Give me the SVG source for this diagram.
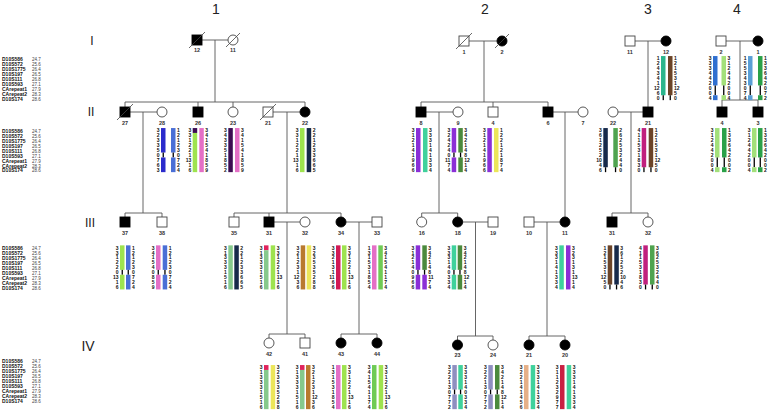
<svg xmlns="http://www.w3.org/2000/svg" width="769" height="412" viewBox="0 0 769 412">
<style>
.bg{fill:#fff}
.hd{font:14px "Liberation Sans",Arial,sans-serif;fill:#222;text-anchor:middle}
.gn{font:12px "Liberation Sans",Arial,sans-serif;fill:#222;text-anchor:middle}
.id{font:bold 5.5px "Liberation Sans",Arial,sans-serif;fill:#333;text-anchor:middle}
.mk{font:bold 5px "Liberation Sans",Arial,sans-serif;fill:#111}
.cm{font:4.5px "Liberation Sans",Arial,sans-serif;fill:#444}
.n{font:bold 5px "Liberation Sans",Arial,sans-serif;fill:#111}
.l{text-anchor:end}
.r{text-anchor:start}
.ln{fill:none;stroke:#555;stroke-width:0.9}
.op{fill:#fff;stroke:#444;stroke-width:0.9}
.af{fill:#000;stroke:#000;stroke-width:0.9}
.sl{stroke:#444;stroke-width:0.8}
.k{fill:#000}
.db{fill:#2b2bcc}.lb{fill:#4a6fd6}.lg{fill:#9ee34f}.pk{fill:#e46fc6}.dp{fill:#3d0c52}.nv{fill:#16294a}
.pu{fill:#8b2fd6}.tl{fill:#3fd19c}.dg{fill:#4b8a3d}.ye{fill:#ece65a}.mg{fill:#c0207e}.br{fill:#6b4428}
.mgr{fill:#4fa34f}.pg{fill:#86c98c}.rd{fill:#e0235c}.ob{fill:#b97a2e}.cr{fill:#d21a55}.gr{fill:#6fcb55}
.lv{fill:#8f8fc0}.pe{fill:#e6b088}.rc{fill:#c92042}.b4{fill:#2f6fd0}.lg4{fill:#a3e07a}.lb4{fill:#5b9fd6}
.g4{fill:#2aa148}.tg{fill:#2bb58c}
</style>
<rect class="bg" x="0" y="0" width="769" height="412"/>

<g id="headers">
<text class="hd" x="216" y="14">1</text>
<text class="hd" x="485" y="14">2</text>
<text class="hd" x="648" y="14">3</text>
<text class="hd" x="737" y="14">4</text>
<text class="gn" x="92" y="45">I</text>
<text class="gn" x="91" y="116">II</text>
<text class="gn" x="90" y="227">III</text>
<text class="gn" x="88" y="351" style="font-size:14px">IV</text>
</g>

<g id="markers">
<g transform="translate(2,60.5)">
<text class="mk" y="0">D10S586</text><text class="mk" y="5">D10S572</text><text class="mk" y="10">D10S1775</text><text class="mk" y="15">D10S197</text><text class="mk" y="20">D10S111</text><text class="mk" y="25">D10S593</text><text class="mk" y="30">CArepeat1</text><text class="mk" y="35">CArepeat2</text><text class="mk" y="40">D10S174</text>
<text class="cm" x="30" y="0">24.7</text><text class="cm" x="30" y="5">25.6</text><text class="cm" x="30" y="10">26.4</text><text class="cm" x="30" y="15">26.5</text><text class="cm" x="30" y="20">26.8</text><text class="cm" x="30" y="25">27.1</text><text class="cm" x="30" y="30">27.9</text><text class="cm" x="30" y="35">28.3</text><text class="cm" x="30" y="40">28.6</text>
</g>
<g transform="translate(2,133.3)">
<text class="mk" y="0">D10S586</text><text class="mk" y="4.9">D10S572</text><text class="mk" y="9.8">D10S1775</text><text class="mk" y="14.7">D10S197</text><text class="mk" y="19.6">D10S111</text><text class="mk" y="24.5">D10S593</text><text class="mk" y="29.4">CArepeat1</text><text class="mk" y="34.3">CArepeat2</text><text class="mk" y="39.2">D10S174</text>
<text class="cm" x="30" y="0">24.7</text><text class="cm" x="30" y="4.9">25.6</text><text class="cm" x="30" y="9.8">26.4</text><text class="cm" x="30" y="14.7">26.5</text><text class="cm" x="30" y="19.6">26.8</text><text class="cm" x="30" y="24.5">27.1</text><text class="cm" x="30" y="29.4">27.9</text><text class="cm" x="30" y="34.3">28.3</text><text class="cm" x="30" y="39.2">28.6</text>
</g>
<g transform="translate(2,250)">
<text class="mk" y="0">D10S586</text><text class="mk" y="5">D10S572</text><text class="mk" y="10">D10S1775</text><text class="mk" y="15">D10S197</text><text class="mk" y="20">D10S111</text><text class="mk" y="25">D10S593</text><text class="mk" y="30">CArepeat1</text><text class="mk" y="35">CArepeat2</text><text class="mk" y="40">D10S174</text>
<text class="cm" x="30" y="0">24.7</text><text class="cm" x="30" y="5">25.6</text><text class="cm" x="30" y="10">26.4</text><text class="cm" x="30" y="15">26.5</text><text class="cm" x="30" y="20">26.8</text><text class="cm" x="30" y="25">27.1</text><text class="cm" x="30" y="30">27.9</text><text class="cm" x="30" y="35">28.3</text><text class="cm" x="30" y="40">28.6</text>
</g>
<g transform="translate(2,363)">
<text class="mk" y="0">D10S586</text><text class="mk" y="5">D10S572</text><text class="mk" y="10">D10S1775</text><text class="mk" y="15">D10S197</text><text class="mk" y="20">D10S111</text><text class="mk" y="25">D10S593</text><text class="mk" y="30">CArepeat1</text><text class="mk" y="35">CArepeat2</text><text class="mk" y="40">D10S174</text>
<text class="cm" x="30" y="0">24.7</text><text class="cm" x="30" y="5">25.6</text><text class="cm" x="30" y="10">26.4</text><text class="cm" x="30" y="15">26.5</text><text class="cm" x="30" y="20">26.8</text><text class="cm" x="30" y="25">27.1</text><text class="cm" x="30" y="30">27.9</text><text class="cm" x="30" y="35">28.3</text><text class="cm" x="30" y="40">28.6</text>
</g>
</g>

<g id="connectors" class="ln">
<path d="M202 40H228M215 40V102M125 102H305M125 102V107M198 102V107M233 102V107M305 102V107"/>
<path d="M469 41H497M484 41V102M421 102H548M421 102V107M493 102V107M548 102V107"/>
<path d="M635 41H661M648 41V107"/>
<path d="M726 41H753M740 41V100M722 100H758M722 100V107M758 100V107"/>
<path d="M130 112H157M143 112V213M125 213H162M125 213V217M162 213V217"/>
<path d="M273 112H300M287 112V213M234 213H341M234 213V217M269 213V217M341 213V217"/>
<path d="M426 112H453M439 112V213M421.7 213H457.7M421.7 213V217M457.7 213V217"/>
<path d="M553 112H578M565 112V217"/>
<path d="M618 112H643M631 112V213M612 213H648M612 213V217M648 213V217"/>
<path d="M274 222H300M287 222V334M269 334H305M269 334V338M305 334V338"/>
<path d="M346 222H372M359 222V334M341 334H377M341 334V338M377 334V338"/>
<path d="M462.7 222H488M475.5 222V336M457.5 336H493M457.5 336V340M493 336V340"/>
<path d="M534 222H560M547 222V336M529 336H565M529 336V340M565 336V340"/>
</g>

<!-- Generation I -->
<g id="p-1-12"><rect class="af" x="192" y="35" width="10" height="10"/><line class="sl" x1="189" y1="48" x2="205" y2="32"/><text class="id" x="197" y="52">12</text></g>
<g id="p-1-11"><circle class="op" cx="233" cy="40" r="5"/><line class="sl" x1="226" y1="47" x2="240" y2="33"/><text class="id" x="233" y="52">11</text></g>
<g id="p-2-1"><rect class="op" x="459" y="36" width="10" height="10"/><line class="sl" x1="456" y1="49" x2="472" y2="33"/><text class="id" x="464" y="54">1</text></g>
<g id="p-2-2"><circle class="af" cx="502" cy="41" r="5"/><line class="sl" x1="495" y1="48" x2="509" y2="34"/><text class="id" x="502" y="54">2</text></g>
<g id="p-3-11"><rect class="op" x="625" y="36" width="10" height="10"/><text class="id" x="630" y="54">11</text></g>
<g id="p-3-12"><circle class="af" cx="666" cy="41" r="5"/><text class="id" x="666" y="54">12</text></g>
<g id="p-4-2"><rect class="op" x="716" y="36" width="10" height="10"/><text class="id" x="721" y="54">2</text></g>
<g id="p-4-1"><circle class="af" cx="758" cy="41" r="5"/><text class="id" x="758" y="54">1</text></g>

<!-- Generation II -->
<g id="p-1-27"><rect class="af" x="120" y="107" width="10" height="10"/><line class="sl" x1="117" y1="120" x2="133" y2="104"/><text class="id" x="125" y="124.5">27</text></g>
<g id="p-1-28"><circle class="op" cx="162" cy="112" r="5"/><text class="id" x="162" y="124.5">28</text></g>
<g id="p-1-26"><rect class="af" x="193" y="107" width="10" height="10"/><text class="id" x="198" y="124.5">26</text></g>
<g id="p-1-23"><circle class="op" cx="233" cy="112" r="5"/><text class="id" x="233" y="124.5">23</text></g>
<g id="p-1-21"><rect class="op" x="263" y="107" width="10" height="10"/><line class="sl" x1="260" y1="120" x2="276" y2="104"/><text class="id" x="268" y="124.5">21</text></g>
<g id="p-1-22"><circle class="af" cx="305" cy="112" r="5"/><text class="id" x="305" y="124.5">22</text></g>
<g id="p-2-8"><rect class="af" x="416" y="107" width="10" height="10"/><text class="id" x="421" y="124.5">8</text></g>
<g id="p-2-9"><circle class="op" cx="458" cy="112" r="5"/><text class="id" x="458" y="124.5">9</text></g>
<g id="p-2-4"><rect class="op" x="488" y="107" width="10" height="10"/><text class="id" x="493" y="124.5">4</text></g>
<g id="p-2-6"><rect class="af" x="543" y="107" width="10" height="10"/><text class="id" x="548" y="124.5">6</text></g>
<g id="p-2-7"><circle class="op" cx="583" cy="112" r="5"/><text class="id" x="583" y="124.5">7</text></g>
<g id="p-3-22"><circle class="op" cx="613" cy="112" r="5"/><text class="id" x="613" y="124.5">22</text></g>
<g id="p-3-21"><rect class="af" x="643" y="107" width="10" height="10"/><text class="id" x="648" y="124.5">21</text></g>
<g id="p-4-4"><rect class="af" x="717" y="107" width="10" height="10"/><text class="id" x="722" y="124.5">4</text></g>
<g id="p-4-3"><rect class="af" x="753" y="107" width="10" height="10"/><text class="id" x="758" y="124.5">3</text></g>

<!-- Generation III -->
<g id="p-1-37"><rect class="af" x="120" y="217" width="10" height="10"/><text class="id" x="125" y="234.5">37</text></g>
<g id="p-1-38"><rect class="op" x="157" y="217" width="10" height="10"/><text class="id" x="162" y="234.5">38</text></g>
<g id="p-1-35"><rect class="op" x="229" y="217" width="10" height="10"/><text class="id" x="234" y="234.5">35</text></g>
<g id="p-1-31"><rect class="af" x="264" y="217" width="10" height="10"/><text class="id" x="269" y="234.5">31</text></g>
<g id="p-1-32"><circle class="op" cx="305" cy="222" r="5"/><text class="id" x="305" y="234.5">32</text></g>
<g id="p-1-34"><circle class="af" cx="341" cy="222" r="5"/><text class="id" x="341" y="234.5">34</text></g>
<g id="p-1-33"><rect class="op" x="372" y="217" width="10" height="10"/><text class="id" x="377" y="234.5">33</text></g>
<g id="p-2-16"><circle class="op" cx="421.7" cy="222" r="5"/><text class="id" x="421.7" y="234.5">16</text></g>
<g id="p-2-18"><circle class="af" cx="457.7" cy="222" r="5"/><text class="id" x="457.7" y="234.5">18</text></g>
<g id="p-2-19"><rect class="op" x="488" y="217" width="10" height="10"/><text class="id" x="493" y="234.5">19</text></g>
<g id="p-2-10"><rect class="op" x="524" y="217" width="10" height="10"/><text class="id" x="529" y="234.5">10</text></g>
<g id="p-2-11"><circle class="af" cx="565" cy="222" r="5"/><text class="id" x="565" y="234.5">11</text></g>
<g id="p-3-31"><rect class="af" x="607" y="217" width="10" height="10"/><text class="id" x="612" y="234.5">31</text></g>
<g id="p-3-32"><circle class="op" cx="648" cy="222" r="5"/><text class="id" x="648" y="234.5">32</text></g>

<!-- Generation IV -->
<g id="p-1-42"><circle class="op" cx="269" cy="343" r="5"/><text class="id" x="269" y="355.5">42</text></g>
<g id="p-1-41"><rect class="op" x="300" y="338" width="10" height="10"/><text class="id" x="305" y="355.5">41</text></g>
<g id="p-1-43"><circle class="af" cx="341" cy="343" r="5"/><text class="id" x="341" y="355.5">43</text></g>
<g id="p-1-44"><circle class="af" cx="377" cy="343" r="5"/><text class="id" x="377" y="355.5">44</text></g>
<g id="p-2-23"><circle class="af" cx="457.5" cy="345" r="5"/><text class="id" x="457.5" y="357">23</text></g>
<g id="p-2-24"><circle class="op" cx="493" cy="345" r="5"/><text class="id" x="493" y="357">24</text></g>
<g id="p-2-21"><circle class="af" cx="529" cy="345" r="5"/><text class="id" x="529" y="357">21</text></g>
<g id="p-2-20"><circle class="af" cx="565" cy="345" r="5"/><text class="id" x="565" y="357">20</text></g>

<!-- Haplotypes -->
<g id="h-3-12" class="n" transform="translate(661,58.5)">
<rect class="tg" x="0" y="-2.45" width="4.5" height="39.2"/><rect class="k" x="1.6" y="36.75" width="1.3" height="4.9"/>
<rect class="br" x="7" y="-2.45" width="4.5" height="39.2"/><rect class="k" x="8.6" y="36.75" width="1.3" height="4.9"/>
<g class="l" transform="translate(-1.5)"><text y="1.9">1</text><text y="6.8">2</text><text y="11.7">4</text><text y="16.6">3</text><text y="21.5">4</text><text y="26.4">1</text><text y="31.3">12</text><text y="36.2">6</text><text y="41.1">0</text></g>
<g class="r" transform="translate(13)"><text y="1.9">1</text><text y="6.8">2</text><text y="11.7">1</text><text y="16.6">5</text><text y="21.5">3</text><text y="26.4">1</text><text y="31.3">12</text><text y="36.2">5</text><text y="41.1">0</text></g>
</g>
<g id="h-4-2" class="n" transform="translate(713,58.5)">
<rect class="b4" x="0" y="-2.45" width="4.5" height="29.4"/><rect class="k" x="1.6" y="26.95" width="1.3" height="9.8"/><rect class="b4" x="0" y="36.75" width="4.5" height="4.9"/>
<rect class="lg4" x="8.5" y="-2.45" width="4.5" height="29.4"/><rect class="k" x="10.1" y="26.95" width="1.3" height="9.8"/><rect class="lg4" x="8.5" y="36.75" width="4.5" height="4.9"/>
<g class="l" transform="translate(-1.5)"><text y="1.9">3</text><text y="6.8">3</text><text y="11.7">3</text><text y="16.6">4</text><text y="21.5">4</text><text y="26.4">2</text><text y="31.3">0</text><text y="36.2">0</text><text y="41.1">4</text></g>
<g class="r" transform="translate(14.5)"><text y="1.9">3</text><text y="6.8">1</text><text y="11.7">2</text><text y="16.6">4</text><text y="21.5">4</text><text y="26.4">2</text><text y="31.3">0</text><text y="36.2">0</text><text y="41.1">4</text></g>
</g>
<g id="h-4-1" class="n" transform="translate(748,58.5)">
<rect class="lb4" x="0" y="-2.45" width="4.5" height="29.4"/><rect class="k" x="1.6" y="26.95" width="1.3" height="9.8"/><rect class="lb4" x="0" y="36.75" width="4.5" height="4.9"/>
<rect class="g4" x="10" y="-2.45" width="4.5" height="29.4"/><rect class="k" x="11.6" y="26.95" width="1.3" height="9.8"/><rect class="g4" x="10" y="36.75" width="4.5" height="4.9"/>
<g class="l" transform="translate(-1.5)"><text y="1.9">1</text><text y="6.8">5</text><text y="11.7">5</text><text y="16.6">3</text><text y="21.5">4</text><text y="26.4">3</text><text y="31.3">0</text><text y="36.2">7</text><text y="41.1">4</text></g>
<g class="r" transform="translate(16)"><text y="1.9">1</text><text y="6.8">3</text><text y="11.7">3</text><text y="16.6">6</text><text y="21.5">4</text><text y="26.4">2</text><text y="31.3">0</text><text y="36.2">7</text><text y="41.1">2</text></g>
</g>

<g id="h-1-28" class="n" transform="translate(161,130.5)">
<rect class="db" x="0" y="-2.45" width="4.5" height="24.5"/><rect class="k" x="1.6" y="22.05" width="1.3" height="4.9"/><rect class="db" x="0" y="26.95" width="4.5" height="14.7"/>
<rect class="lb" x="10" y="-2.45" width="4.5" height="24.5"/><rect class="k" x="11.6" y="22.05" width="1.3" height="4.9"/><rect class="lb" x="10" y="26.95" width="4.5" height="14.7"/>
<g class="l" transform="translate(-1.5)"><text y="1.9">3</text><text y="6.8">2</text><text y="11.7">3</text><text y="16.6">3</text><text y="21.5">5</text><text y="26.4">0</text><text y="31.3">7</text><text y="36.2">6</text><text y="41.1">3</text></g>
<g class="r" transform="translate(16)"><text y="1.9">1</text><text y="6.8">2</text><text y="11.7">1</text><text y="16.6">2</text><text y="21.5">3</text><text y="26.4">0</text><text y="31.3">7</text><text y="36.2">2</text><text y="41.1">4</text></g>
</g>
<g id="h-1-26" class="n" transform="translate(192.7,130.5)">
<rect class="dp" x="0" y="-2.45" width="4.5" height="4.9"/><rect class="lg" x="0" y="2.45" width="4.5" height="39.2"/>
<rect class="pk" x="6.6" y="-2.45" width="4.5" height="44.1"/>
<g class="l" transform="translate(-1.5)"><text y="1.9">3</text><text y="6.8">3</text><text y="11.7">1</text><text y="16.6">2</text><text y="21.5">2</text><text y="26.4">1</text><text y="31.3">13</text><text y="36.2">1</text><text y="41.1">6</text></g>
<g class="r" transform="translate(12.6)"><text y="1.9">3</text><text y="6.8">4</text><text y="11.7">1</text><text y="16.6">5</text><text y="21.5">4</text><text y="26.4">1</text><text y="31.3">8</text><text y="36.2">5</text><text y="41.1">9</text></g>
</g>
<g id="h-1-23" class="n" transform="translate(228.3,130.5)">
<rect class="dp" x="0" y="-2.45" width="4.5" height="44.1"/>
<rect class="pk" x="6.7" y="-2.45" width="4.5" height="44.1"/>
<g class="l" transform="translate(-1.5)"><text y="1.9">3</text><text y="6.8">4</text><text y="11.7">3</text><text y="16.6">3</text><text y="21.5">5</text><text y="26.4">1</text><text y="31.3">8</text><text y="36.2">5</text><text y="41.1">2</text></g>
<g class="r" transform="translate(12.7)"><text y="1.9">3</text><text y="6.8">4</text><text y="11.7">1</text><text y="16.6">5</text><text y="21.5">4</text><text y="26.4">1</text><text y="31.3">8</text><text y="36.2">5</text><text y="41.1">9</text></g>
</g>
<g id="h-1-22" class="n" transform="translate(300,130.5)">
<rect class="lg" x="0" y="-2.45" width="4.5" height="44.1"/>
<rect class="nv" x="6.7" y="-2.45" width="4.5" height="44.1"/>
<g class="l" transform="translate(-1.5)"><text y="1.9">3</text><text y="6.8">3</text><text y="11.7">1</text><text y="16.6">2</text><text y="21.5">2</text><text y="26.4">1</text><text y="31.3">13</text><text y="36.2">1</text><text y="41.1">6</text></g>
<g class="r" transform="translate(12.7)"><text y="1.9">2</text><text y="6.8">2</text><text y="11.7">1</text><text y="16.6">2</text><text y="21.5">3</text><text y="26.4">3</text><text y="31.3">6</text><text y="36.2">6</text><text y="41.1">5</text></g>
</g>
<g id="h-2-8" class="n" transform="translate(416,130.5)">
<rect class="pu" x="0" y="-2.45" width="4.5" height="44.1"/>
<rect class="tl" x="7" y="-2.45" width="4.5" height="44.1"/>
<g class="l" transform="translate(-1.5)"><text y="1.9">3</text><text y="6.8">1</text><text y="11.7">2</text><text y="16.6">1</text><text y="21.5">4</text><text y="26.4">1</text><text y="31.3">9</text><text y="36.2">6</text><text y="41.1">6</text></g>
<g class="r" transform="translate(13)"><text y="1.9">3</text><text y="6.8">3</text><text y="11.7">3</text><text y="16.6">1</text><text y="21.5">4</text><text y="26.4">1</text><text y="31.3">3</text><text y="36.2">3</text><text y="41.1">4</text></g>
</g>
<g id="h-2-9" class="n" transform="translate(451.7,130.5)">
<rect class="pu" x="0" y="-2.45" width="4.5" height="24.5"/><rect class="k" x="1.6" y="22.05" width="1.3" height="4.9"/><rect class="pu" x="0" y="26.95" width="4.5" height="14.7"/>
<rect class="dg" x="6.6" y="-2.45" width="4.5" height="24.5"/><rect class="k" x="8.2" y="22.05" width="1.3" height="4.9"/><rect class="dg" x="6.6" y="26.95" width="4.5" height="14.7"/>
<g class="l" transform="translate(-1.5)"><text y="1.9">3</text><text y="6.8">2</text><text y="11.7">4</text><text y="16.6">2</text><text y="21.5">4</text><text y="26.4">0</text><text y="31.3">11</text><text y="36.2">7</text><text y="41.1">4</text></g>
<g class="r" transform="translate(12.6)"><text y="1.9">3</text><text y="6.8">4</text><text y="11.7">2</text><text y="16.6">1</text><text y="21.5">4</text><text y="26.4">8</text><text y="31.3">12</text><text y="36.2">1</text><text y="41.1">4</text></g>
</g>
<g id="h-2-4" class="n" transform="translate(487.3,130.5)">
<rect class="pu" x="0" y="-2.45" width="4.5" height="44.1"/>
<rect class="ye" x="6.7" y="-2.45" width="4.5" height="44.1"/>
<g class="l" transform="translate(-1.5)"><text y="1.9">3</text><text y="6.8">1</text><text y="11.7">2</text><text y="16.6">1</text><text y="21.5">4</text><text y="26.4">1</text><text y="31.3">9</text><text y="36.2">6</text><text y="41.1">6</text></g>
<g class="r" transform="translate(12.7)"><text y="1.9">1</text><text y="6.8">2</text><text y="11.7">2</text><text y="16.6">1</text><text y="21.5">2</text><text y="26.4">1</text><text y="31.3">8</text><text y="36.2">7</text><text y="41.1">4</text></g>
</g>
<g id="h-3-22" class="n" transform="translate(603.3,130.5)">
<rect class="nv" x="0" y="-2.45" width="4.5" height="39.2"/><rect class="k" x="1.6" y="36.75" width="1.3" height="4.9"/>
<rect class="mgr" x="10" y="-2.45" width="4.5" height="39.2"/><rect class="k" x="11.6" y="36.75" width="1.3" height="4.9"/>
<g class="l" transform="translate(-1.5)"><text y="1.9">3</text><text y="6.8">6</text><text y="11.7">1</text><text y="16.6">2</text><text y="21.5">5</text><text y="26.4">2</text><text y="31.3">10</text><text y="36.2">4</text><text y="41.1">6</text></g>
<g class="r" transform="translate(16)"><text y="1.9">2</text><text y="6.8">6</text><text y="11.7">2</text><text y="16.6">5</text><text y="21.5">3</text><text y="26.4">2</text><text y="31.3">4</text><text y="36.2">4</text><text y="41.1">0</text></g>
</g>
<g id="h-3-21" class="n" transform="translate(641.7,130.5)">
<rect class="mg" x="0" y="-2.45" width="4.5" height="39.2"/><rect class="k" x="1.6" y="36.75" width="1.3" height="4.9"/>
<rect class="br" x="7" y="-2.45" width="4.5" height="39.2"/><rect class="k" x="8.6" y="36.75" width="1.3" height="4.9"/>
<g class="l" transform="translate(-1.5)"><text y="1.9">4</text><text y="6.8">1</text><text y="11.7">1</text><text y="16.6">5</text><text y="21.5">3</text><text y="26.4">1</text><text y="31.3">8</text><text y="36.2">3</text><text y="41.1">0</text></g>
<g class="r" transform="translate(13)"><text y="1.9">1</text><text y="6.8">2</text><text y="11.7">1</text><text y="16.6">5</text><text y="21.5">3</text><text y="26.4">1</text><text y="31.3">12</text><text y="36.2">5</text><text y="41.1">0</text></g>
</g>
<g id="h-4-4" class="n" transform="translate(715,130.5)">
<rect class="lg4" x="0" y="-2.45" width="4.5" height="29.4"/><rect class="k" x="1.6" y="26.95" width="1.3" height="9.8"/><rect class="lg4" x="0" y="36.75" width="4.5" height="4.9"/>
<rect class="g4" x="7" y="-2.45" width="4.5" height="29.4"/><rect class="k" x="8.6" y="26.95" width="1.3" height="9.8"/><rect class="g4" x="7" y="36.75" width="4.5" height="4.9"/>
<g class="l" transform="translate(-1.5)"><text y="1.9">3</text><text y="6.8">1</text><text y="11.7">2</text><text y="16.6">4</text><text y="21.5">4</text><text y="26.4">2</text><text y="31.3">0</text><text y="36.2">0</text><text y="41.1">4</text></g>
<g class="r" transform="translate(13)"><text y="1.9">1</text><text y="6.8">3</text><text y="11.7">3</text><text y="16.6">6</text><text y="21.5">4</text><text y="26.4">2</text><text y="31.3">0</text><text y="36.2">0</text><text y="41.1">2</text></g>
</g>
<g id="h-4-3" class="n" transform="translate(752,130.5)">
<rect class="lg4" x="0" y="-2.45" width="4.5" height="29.4"/><rect class="k" x="1.6" y="26.95" width="1.3" height="9.8"/><rect class="lg4" x="0" y="36.75" width="4.5" height="4.9"/>
<rect class="g4" x="6" y="-2.45" width="4.5" height="29.4"/><rect class="k" x="7.6" y="26.95" width="1.3" height="9.8"/><rect class="g4" x="6" y="36.75" width="4.5" height="4.9"/>
<g class="l" transform="translate(-1.5)"><text y="1.9">3</text><text y="6.8">1</text><text y="11.7">2</text><text y="16.6">4</text><text y="21.5">4</text><text y="26.4">2</text><text y="31.3">0</text><text y="36.2">0</text><text y="41.1">4</text></g>
<g class="r" transform="translate(12)"><text y="1.9">1</text><text y="6.8">3</text><text y="11.7">3</text><text y="16.6">6</text><text y="21.5">4</text><text y="26.4">2</text><text y="31.3">0</text><text y="36.2">0</text><text y="41.1">2</text></g>
</g>

<g id="h-1-37" class="n" transform="translate(120,247.8)">
<rect class="lg" x="0" y="-2.45" width="4.5" height="24.5"/><rect class="k" x="1.6" y="22.05" width="1.3" height="4.9"/><rect class="lg" x="0" y="26.95" width="4.5" height="14.7"/>
<rect class="lb" x="6" y="-2.45" width="4.5" height="24.5"/><rect class="k" x="7.6" y="22.05" width="1.3" height="4.9"/><rect class="lb" x="6" y="26.95" width="4.5" height="14.7"/>
<g class="l" transform="translate(-1.5)"><text y="1.9">3</text><text y="6.8">3</text><text y="11.7">1</text><text y="16.6">2</text><text y="21.5">2</text><text y="26.4">0</text><text y="31.3">13</text><text y="36.2">1</text><text y="41.1">6</text></g>
<g class="r" transform="translate(12)"><text y="1.9">1</text><text y="6.8">2</text><text y="11.7">1</text><text y="16.6">2</text><text y="21.5">3</text><text y="26.4">0</text><text y="31.3">7</text><text y="36.2">2</text><text y="41.1">4</text></g>
</g>
<g id="h-1-38" class="n" transform="translate(156,247.8)">
<rect class="pk" x="0" y="-2.45" width="4.5" height="24.5"/><rect class="k" x="1.6" y="22.05" width="1.3" height="4.9"/><rect class="pk" x="0" y="26.95" width="4.5" height="14.7"/>
<rect class="lb" x="6.7" y="-2.45" width="4.5" height="24.5"/><rect class="k" x="8.3" y="22.05" width="1.3" height="4.9"/><rect class="lb" x="6.7" y="26.95" width="4.5" height="14.7"/>
<g class="l" transform="translate(-1.5)"><text y="1.9">3</text><text y="6.8">4</text><text y="11.7">1</text><text y="16.6">5</text><text y="21.5">4</text><text y="26.4">0</text><text y="31.3">8</text><text y="36.2">5</text><text y="41.1">9</text></g>
<g class="r" transform="translate(12.7)"><text y="1.9">1</text><text y="6.8">2</text><text y="11.7">1</text><text y="16.6">2</text><text y="21.5">3</text><text y="26.4">0</text><text y="31.3">7</text><text y="36.2">2</text><text y="41.1">4</text></g>
</g>
<g id="h-1-35" class="n" transform="translate(228.3,247.8)">
<rect class="pg" x="0" y="-2.45" width="4.5" height="44.1"/>
<rect class="nv" x="6" y="-2.45" width="4.5" height="44.1"/>
<g class="l" transform="translate(-1.5)"><text y="1.9">3</text><text y="6.8">1</text><text y="11.7">3</text><text y="16.6">3</text><text y="21.5">3</text><text y="26.4">1</text><text y="31.3">5</text><text y="36.2">1</text><text y="41.1">6</text></g>
<g class="r" transform="translate(12)"><text y="1.9">2</text><text y="6.8">2</text><text y="11.7">1</text><text y="16.6">2</text><text y="21.5">3</text><text y="26.4">3</text><text y="31.3">6</text><text y="36.2">6</text><text y="41.1">5</text></g>
</g>
<g id="h-1-31" class="n" transform="translate(264,247.8)">
<rect class="rd" x="0" y="-2.45" width="4.5" height="4.9"/><rect class="pg" x="0" y="2.45" width="4.5" height="39.2"/>
<rect class="lg" x="6.7" y="-2.45" width="4.5" height="44.1"/>
<g class="l" transform="translate(-1.5)"><text y="1.9">3</text><text y="6.8">1</text><text y="11.7">3</text><text y="16.6">3</text><text y="21.5">3</text><text y="26.4">1</text><text y="31.3">5</text><text y="36.2">1</text><text y="41.1">6</text></g>
<g class="r" transform="translate(12.7)"><text y="1.9">3</text><text y="6.8">3</text><text y="11.7">1</text><text y="16.6">2</text><text y="21.5">2</text><text y="26.4">1</text><text y="31.3">13</text><text y="36.2">1</text><text y="41.1">6</text></g>
</g>
<g id="h-1-32" class="n" transform="translate(300.7,247.8)">
<rect class="ob" x="0" y="-2.45" width="4.5" height="44.1"/>
<rect class="ye" x="6" y="-2.45" width="4.5" height="44.1"/>
<g class="l" transform="translate(-1.5)"><text y="1.9">3</text><text y="6.8">2</text><text y="11.7">1</text><text y="16.6">2</text><text y="21.5">3</text><text y="26.4">1</text><text y="31.3">12</text><text y="36.2">3</text><text y="41.1">6</text></g>
<g class="r" transform="translate(12)"><text y="1.9">3</text><text y="6.8">2</text><text y="11.7">3</text><text y="16.6">5</text><text y="21.5">3</text><text y="26.4">5</text><text y="31.3">2</text><text y="36.2">8</text><text y="41.1">8</text></g>
</g>
<g id="h-1-34" class="n" transform="translate(336,247.8)">
<rect class="cr" x="0" y="-2.45" width="4.5" height="44.1"/>
<rect class="lg" x="6" y="-2.45" width="4.5" height="44.1"/>
<g class="l" transform="translate(-1.5)"><text y="1.9">3</text><text y="6.8">3</text><text y="11.7">2</text><text y="16.6">1</text><text y="21.5">3</text><text y="26.4">1</text><text y="31.3">11</text><text y="36.2">6</text><text y="41.1">6</text></g>
<g class="r" transform="translate(12)"><text y="1.9">3</text><text y="6.8">3</text><text y="11.7">1</text><text y="16.6">2</text><text y="21.5">2</text><text y="26.4">1</text><text y="31.3">13</text><text y="36.2">1</text><text y="41.1">6</text></g>
</g>
<g id="h-1-33" class="n" transform="translate(372,247.8)">
<rect class="pk" x="0" y="-2.45" width="4.5" height="44.1"/>
<rect class="gr" x="6.3" y="-2.45" width="4.5" height="44.1"/>
<g class="l" transform="translate(-1.5)"><text y="1.9">1</text><text y="6.8">3</text><text y="11.7">1</text><text y="16.6">5</text><text y="21.5">3</text><text y="26.4">1</text><text y="31.3">8</text><text y="36.2">5</text><text y="41.1">4</text></g>
<g class="r" transform="translate(12.3)"><text y="1.9">3</text><text y="6.8">4</text><text y="11.7">1</text><text y="16.6">5</text><text y="21.5">4</text><text y="26.4">1</text><text y="31.3">1</text><text y="36.2">7</text><text y="41.1">4</text></g>
</g>
<g id="h-2-16" class="n" transform="translate(415.7,247.8)">
<rect class="pu" x="0" y="-2.45" width="4.5" height="24.5"/><rect class="k" x="1.6" y="22.05" width="1.3" height="4.9"/><rect class="pu" x="0" y="26.95" width="4.5" height="14.7"/>
<rect class="dg" x="6.6" y="-2.45" width="4.5" height="24.5"/><rect class="k" x="8.2" y="22.05" width="1.3" height="4.9"/><rect class="pu" x="6.6" y="26.95" width="4.5" height="14.7"/>
<g class="l" transform="translate(-1.5)"><text y="1.9">3</text><text y="6.8">1</text><text y="11.7">2</text><text y="16.6">1</text><text y="21.5">4</text><text y="26.4">0</text><text y="31.3">9</text><text y="36.2">6</text><text y="41.1">6</text></g>
<g class="r" transform="translate(12.6)"><text y="1.9">3</text><text y="6.8">4</text><text y="11.7">2</text><text y="16.6">1</text><text y="21.5">4</text><text y="26.4">8</text><text y="31.3">11</text><text y="36.2">7</text><text y="41.1">4</text></g>
</g>
<g id="h-2-18" class="n" transform="translate(451.7,247.8)">
<rect class="tl" x="0" y="-2.45" width="4.5" height="24.5"/><rect class="k" x="1.6" y="22.05" width="1.3" height="4.9"/><rect class="tl" x="0" y="26.95" width="4.5" height="14.7"/>
<rect class="dg" x="6" y="-2.45" width="4.5" height="24.5"/><rect class="k" x="7.6" y="22.05" width="1.3" height="4.9"/><rect class="dg" x="6" y="26.95" width="4.5" height="14.7"/>
<g class="l" transform="translate(-1.5)"><text y="1.9">3</text><text y="6.8">3</text><text y="11.7">3</text><text y="16.6">1</text><text y="21.5">4</text><text y="26.4">0</text><text y="31.3">3</text><text y="36.2">3</text><text y="41.1">4</text></g>
<g class="r" transform="translate(12)"><text y="1.9">3</text><text y="6.8">4</text><text y="11.7">2</text><text y="16.6">1</text><text y="21.5">4</text><text y="26.4">8</text><text y="31.3">12</text><text y="36.2">1</text><text y="41.1">4</text></g>
</g>
<g id="h-2-11" class="n" transform="translate(559.3,247.8)">
<rect class="tl" x="0" y="-2.45" width="4.5" height="44.1"/>
<rect class="pu" x="6.7" y="-2.45" width="4.5" height="44.1"/>
<g class="l" transform="translate(-1.5)"><text y="1.9">3</text><text y="6.8">3</text><text y="11.7">3</text><text y="16.6">1</text><text y="21.5">4</text><text y="26.4">1</text><text y="31.3">3</text><text y="36.2">3</text><text y="41.1">4</text></g>
<g class="r" transform="translate(12.7)"><text y="1.9">3</text><text y="6.8">2</text><text y="11.7">3</text><text y="16.6">1</text><text y="21.5">3</text><text y="26.4">1</text><text y="31.3">13</text><text y="36.2">1</text><text y="41.1">4</text></g>
</g>
<g id="h-3-31" class="n" transform="translate(607.7,247.8)">
<rect class="br" x="0" y="-2.45" width="4.5" height="39.2"/><rect class="k" x="1.6" y="36.75" width="1.3" height="4.9"/>
<rect class="nv" x="6.6" y="-2.45" width="4.5" height="39.2"/><rect class="k" x="8.2" y="36.75" width="1.3" height="4.9"/>
<g class="l" transform="translate(-1.5)"><text y="1.9">1</text><text y="6.8">2</text><text y="11.7">1</text><text y="16.6">5</text><text y="21.5">3</text><text y="26.4">1</text><text y="31.3">12</text><text y="36.2">5</text><text y="41.1">0</text></g>
<g class="r" transform="translate(12.6)"><text y="1.9">3</text><text y="6.8">6</text><text y="11.7">1</text><text y="16.6">2</text><text y="21.5">5</text><text y="26.4">2</text><text y="31.3">10</text><text y="36.2">4</text><text y="41.1">6</text></g>
</g>
<g id="h-3-32" class="n" transform="translate(643.3,247.8)">
<rect class="mg" x="0" y="-2.45" width="4.5" height="39.2"/><rect class="k" x="1.6" y="36.75" width="1.3" height="4.9"/>
<rect class="mgr" x="6.7" y="-2.45" width="4.5" height="39.2"/><rect class="k" x="8.3" y="36.75" width="1.3" height="4.9"/>
<g class="l" transform="translate(-1.5)"><text y="1.9">4</text><text y="6.8">1</text><text y="11.7">1</text><text y="16.6">5</text><text y="21.5">3</text><text y="26.4">1</text><text y="31.3">8</text><text y="36.2">3</text><text y="41.1">0</text></g>
<g class="r" transform="translate(12.7)"><text y="1.9">3</text><text y="6.8">6</text><text y="11.7">2</text><text y="16.6">5</text><text y="21.5">3</text><text y="26.4">2</text><text y="31.3">4</text><text y="36.2">4</text><text y="41.1">0</text></g>
</g>

<g id="h-1-42" class="n" transform="translate(264,367.5)">
<rect class="rd" x="0" y="-2.45" width="4.5" height="4.9"/><rect class="pg" x="0" y="2.45" width="4.5" height="39.2"/>
<rect class="ye" x="6.7" y="-2.45" width="4.5" height="44.1"/>
<g class="l" transform="translate(-1.5)"><text y="1.9">3</text><text y="6.8">1</text><text y="11.7">3</text><text y="16.6">3</text><text y="21.5">3</text><text y="26.4">1</text><text y="31.3">5</text><text y="36.2">1</text><text y="41.1">6</text></g>
<g class="r" transform="translate(12.7)"><text y="1.9">3</text><text y="6.8">2</text><text y="11.7">3</text><text y="16.6">5</text><text y="21.5">3</text><text y="26.4">5</text><text y="31.3">2</text><text y="36.2">8</text><text y="41.1">8</text></g>
</g>
<g id="h-1-41" class="n" transform="translate(300,367.5)">
<rect class="rd" x="0" y="-2.45" width="4.5" height="4.9"/><rect class="pg" x="0" y="2.45" width="4.5" height="39.2"/>
<rect class="ob" x="6" y="-2.45" width="4.5" height="44.1"/>
<g class="l" transform="translate(-1.5)"><text y="1.9">3</text><text y="6.8">1</text><text y="11.7">3</text><text y="16.6">3</text><text y="21.5">3</text><text y="26.4">1</text><text y="31.3">5</text><text y="36.2">1</text><text y="41.1">6</text></g>
<g class="r" transform="translate(12)"><text y="1.9">3</text><text y="6.8">2</text><text y="11.7">1</text><text y="16.6">2</text><text y="21.5">3</text><text y="26.4">1</text><text y="31.3">12</text><text y="36.2">3</text><text y="41.1">6</text></g>
</g>
<g id="h-1-43" class="n" transform="translate(336,367.5)">
<rect class="pk" x="0" y="-2.45" width="4.5" height="44.1"/>
<rect class="lg" x="6" y="-2.45" width="4.5" height="44.1"/>
<g class="l" transform="translate(-1.5)"><text y="1.9">1</text><text y="6.8">3</text><text y="11.7">1</text><text y="16.6">5</text><text y="21.5">3</text><text y="26.4">1</text><text y="31.3">8</text><text y="36.2">5</text><text y="41.1">4</text></g>
<g class="r" transform="translate(12)"><text y="1.9">3</text><text y="6.8">3</text><text y="11.7">1</text><text y="16.6">2</text><text y="21.5">2</text><text y="26.4">1</text><text y="31.3">13</text><text y="36.2">1</text><text y="41.1">6</text></g>
</g>
<g id="h-1-44" class="n" transform="translate(372,367.5)">
<rect class="gr" x="0" y="-2.45" width="4.5" height="44.1"/>
<rect class="lg" x="6.7" y="-2.45" width="4.5" height="44.1"/>
<g class="l" transform="translate(-1.5)"><text y="1.9">3</text><text y="6.8">4</text><text y="11.7">1</text><text y="16.6">5</text><text y="21.5">4</text><text y="26.4">1</text><text y="31.3">1</text><text y="36.2">7</text><text y="41.1">4</text></g>
<g class="r" transform="translate(12.7)"><text y="1.9">3</text><text y="6.8">3</text><text y="11.7">1</text><text y="16.6">2</text><text y="21.5">2</text><text y="26.4">1</text><text y="31.3">13</text><text y="36.2">1</text><text y="41.1">6</text></g>
</g>
<g id="h-2-23" class="n" transform="translate(452.3,367.5)">
<rect class="lv" x="0" y="-2.45" width="4.5" height="24.5"/><rect class="k" x="1.6" y="22.05" width="1.3" height="4.9"/><rect class="lv" x="0" y="26.95" width="4.5" height="14.7"/>
<rect class="tl" x="6" y="-2.45" width="4.5" height="24.5"/><rect class="k" x="7.6" y="22.05" width="1.3" height="4.9"/><rect class="tl" x="6" y="26.95" width="4.5" height="14.7"/>
<g class="l" transform="translate(-1.5)"><text y="1.9">3</text><text y="6.8">2</text><text y="11.7">2</text><text y="16.6">1</text><text y="21.5">3</text><text y="26.4">0</text><text y="31.3">7</text><text y="36.2">7</text><text y="41.1">2</text></g>
<g class="r" transform="translate(12)"><text y="1.9">3</text><text y="6.8">3</text><text y="11.7">3</text><text y="16.6">1</text><text y="21.5">4</text><text y="26.4">0</text><text y="31.3">3</text><text y="36.2">3</text><text y="41.1">4</text></g>
</g>
<g id="h-2-24" class="n" transform="translate(488.3,367.5)">
<rect class="lv" x="0" y="-2.45" width="4.5" height="24.5"/><rect class="k" x="1.6" y="22.05" width="1.3" height="4.9"/><rect class="lv" x="0" y="26.95" width="4.5" height="14.7"/>
<rect class="dg" x="6.7" y="-2.45" width="4.5" height="24.5"/><rect class="k" x="8.3" y="22.05" width="1.3" height="4.9"/><rect class="dg" x="6.7" y="26.95" width="4.5" height="14.7"/>
<g class="l" transform="translate(-1.5)"><text y="1.9">3</text><text y="6.8">2</text><text y="11.7">2</text><text y="16.6">1</text><text y="21.5">3</text><text y="26.4">0</text><text y="31.3">7</text><text y="36.2">7</text><text y="41.1">2</text></g>
<g class="r" transform="translate(12.7)"><text y="1.9">3</text><text y="6.8">4</text><text y="11.7">2</text><text y="16.6">1</text><text y="21.5">4</text><text y="26.4">8</text><text y="31.3">12</text><text y="36.2">1</text><text y="41.1">4</text></g>
</g>
<g id="h-2-21" class="n" transform="translate(524,367.5)">
<rect class="pe" x="0" y="-2.45" width="4.5" height="44.1"/>
<rect class="tl" x="6.7" y="-2.45" width="4.5" height="44.1"/>
<g class="l" transform="translate(-1.5)"><text y="1.9">3</text><text y="6.8">2</text><text y="11.7">2</text><text y="16.6">1</text><text y="21.5">4</text><text y="26.4">1</text><text y="31.3">4</text><text y="36.2">5</text><text y="41.1">6</text></g>
<g class="r" transform="translate(12.7)"><text y="1.9">3</text><text y="6.8">3</text><text y="11.7">3</text><text y="16.6">1</text><text y="21.5">4</text><text y="26.4">1</text><text y="31.3">3</text><text y="36.2">3</text><text y="41.1">4</text></g>
</g>
<g id="h-2-20" class="n" transform="translate(560,367.5)">
<rect class="rc" x="0" y="-2.45" width="4.5" height="44.1"/>
<rect class="tl" x="6.7" y="-2.45" width="4.5" height="44.1"/>
<g class="l" transform="translate(-1.5)"><text y="1.9">3</text><text y="6.8">1</text><text y="11.7">1</text><text y="16.6">2</text><text y="21.5">3</text><text y="26.4">2</text><text y="31.3">9</text><text y="36.2">7</text><text y="41.1">7</text></g>
<g class="r" transform="translate(12.7)"><text y="1.9">3</text><text y="6.8">3</text><text y="11.7">3</text><text y="16.6">1</text><text y="21.5">4</text><text y="26.4">1</text><text y="31.3">3</text><text y="36.2">3</text><text y="41.1">4</text></g>
</g>
</svg>
